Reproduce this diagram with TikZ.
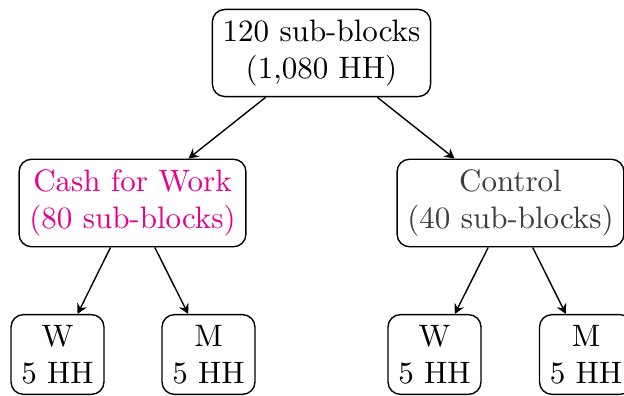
\documentclass[tikz,border=0pt]{standalone}
\usepackage{xcolor}
\usetikzlibrary{arrows.meta}
\definecolor{cfwpink}{RGB}{232,0,140}
\definecolor{ctlgray}{RGB}{60,60,60}
\begin{document}
\begin{tikzpicture}[x=0.3226pt,y=-0.3226pt,
  box/.style={draw, rounded corners=4pt, align=center, font=\normalsize, inner sep=0.3333em, line width=0.45pt},
  link/.style={-{Stealth[length=3.2pt,width=3.4pt,inset=1.1pt]}, line width=0.45pt}]
\useasboundingbox (0,0) rectangle (624,396);
\node[box] (root) at (321.5,53) {120 sub-blocks\\(1,080 HH)};
\node[box, text=cfwpink] (cfw) at (132.5,203) {Cash for Work\\(80 sub-blocks)};
\node[box, text=ctlgray] (ctl) at (510.5,203) {Control\\(40 sub-blocks)};
\node[box] (w1) at (57.5,354.5) {W\\5 HH};
\node[box] (m1) at (208.5,354.5) {M\\5 HH};
\node[box] (w2) at (434.5,354.5) {W\\5 HH};
\node[box] (m2) at (586,354.5) {M\\5 HH};
\draw[link] (root) -- (cfw);
\draw[link] (root) -- (ctl);
\draw[link] (cfw) -- (w1);
\draw[link] (cfw) -- (m1);
\draw[link] (ctl) -- (w2);
\draw[link] (ctl) -- (m2);
\end{tikzpicture}
\end{document}
